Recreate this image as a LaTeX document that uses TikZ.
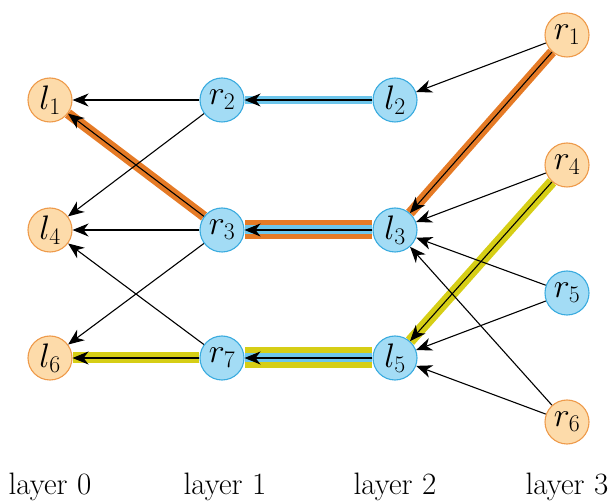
\RequirePackage{fix-cm}
\documentclass[tikz,border=0pt]{standalone}
\usetikzlibrary{arrows.meta,backgrounds}
\definecolor{pfill}{HTML}{FDDBAA}
\definecolor{pdraw}{HTML}{EE9A4A}
\definecolor{bfill}{HTML}{A3DCF5}
\definecolor{bdraw}{HTML}{3AABDF}
\definecolor{bandO}{HTML}{E57A25}
\definecolor{bandY}{HTML}{D6CE16}
\definecolor{bandB}{HTML}{6DC6EC}
\tikzset{
  pnode/.style={circle,draw=pdraw,fill=pfill,line width=1.1pt,minimum size=44pt,inner sep=0pt,font=\fontsize{34}{38}\selectfont},
  bnode/.style={circle,draw=bdraw,fill=bfill,line width=1.1pt,minimum size=44pt,inner sep=0pt,font=\fontsize{34}{38}\selectfont},
  edge/.style={-{Stealth[length=16pt,width=13pt,inset=5pt]},line width=1.1pt,black},
  obandone/.style={line width=10pt,bandO},
  ybandone/.style={line width=11pt,bandY},
  bbandone/.style={line width=8pt,bandB},
  obandtwo/.style={line width=19pt,bandO},
  ybandtwo/.style={line width=21pt,bandY},
  bbandin/.style={line width=9pt,bandB},
  layerlabel/.style={anchor=base,font=\fontsize{31}{35}\selectfont}
}
\begin{document}
\begin{tikzpicture}[x=1pt,y=-1pt]
\useasboundingbox (0,0) rectangle (608,502);
% nodes
\node[pnode] (l1) at (50,100) {$l_1$};
\node[pnode] (l4) at (50,230) {$l_4$};
\node[pnode] (l6) at (50,358) {$l_6$};
\node[bnode] (r2) at (222,100) {$r_2$};
\node[bnode] (r3) at (222,230) {$r_3$};
\node[bnode] (r7) at (222,358) {$r_7$};
\node[bnode] (l2) at (395,100) {$l_2$};
\node[bnode] (l3) at (395,230) {$l_3$};
\node[bnode] (l5) at (395,358) {$l_5$};
\node[pnode] (r1) at (567,35) {$r_1$};
\node[pnode] (r4) at (567,165) {$r_4$};
\node[bnode] (r5) at (567,293) {$r_5$};
\node[pnode] (r6) at (567,422) {$r_6$};
% labels
\node[layerlabel] (t0) at (50,494) {layer 0};
\node[layerlabel] (t1) at (225,494) {layer 1};
\node[layerlabel] (t2) at (395,494) {layer 2};
\node[layerlabel] (t3) at (567,494) {layer 3};
\begin{scope}[on background layer]
% highlight bands
\draw[obandone] (r3) -- (l1);
\draw[bbandone] (l2) -- (r2);
\draw[obandtwo] (l3) -- (r3);
\draw[bbandin] (l3) -- (r3);
\draw[ybandone] (r7) -- (l6);
\draw[ybandtwo] (l5) -- (r7);
\draw[bbandin] (l5) -- (r7);
\draw[obandone] (r1) -- (l3);
\draw[ybandone] (r4) -- (l5);
% edges
\draw[edge] (r2) -- (l1);
\draw[edge] (r2) -- (l4);
\draw[edge] (r3) -- (l1);
\draw[edge] (r3) -- (l4);
\draw[edge] (r3) -- (l6);
\draw[edge] (r7) -- (l4);
\draw[edge] (r7) -- (l6);
\draw[edge] (l2) -- (r2);
\draw[edge] (l3) -- (r3);
\draw[edge] (l5) -- (r7);
\draw[edge] (r1) -- (l2);
\draw[edge] (r1) -- (l3);
\draw[edge] (r4) -- (l3);
\draw[edge] (r4) -- (l5);
\draw[edge] (r5) -- (l3);
\draw[edge] (r5) -- (l5);
\draw[edge] (r6) -- (l5);
\draw[edge] (r6) -- (l3);
\end{scope}
\end{tikzpicture}
\end{document}
